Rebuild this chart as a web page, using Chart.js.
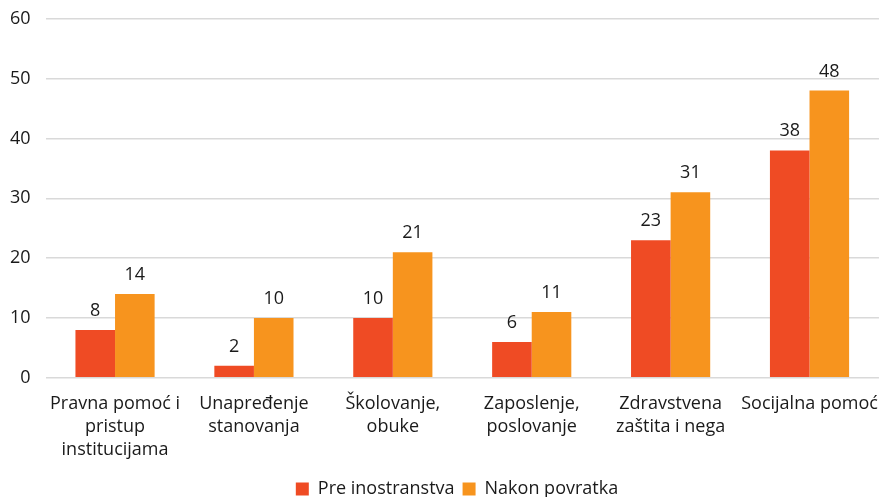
<!DOCTYPE html>
<html>
<head>
<meta charset="utf-8">
<script src="https://cdn.jsdelivr.net/npm/chart.js@4/dist/chart.umd.min.js"></script>
<style>
  html, body { margin: 0; padding: 0; background: #fff; }
  #wrap { width: 884px; height: 497px; position: relative; }
</style>
</head>
<body>
<div id="wrap"><canvas id="canvas"></canvas></div>
<script>
const categories = [
  ['Pravna pomoć i', 'pristup', 'institucijama'],
  ['Unapređenje', 'stanovanja'],
  ['Školovanje,', 'obuke'],
  ['Zaposlenje,', 'poslovanje'],
  ['Zdravstvena', 'zaštita i nega'],
  'Socijalna pomoć'
];
const preInostranstva = [8, 2, 10, 6, 23, 38];
const nakonPovratka = [14, 10, 21, 11, 31, 48];
const yTicks = [0, 10, 20, 30, 40, 50, 60];

const FONT = "'Open Sans', 'Noto Sans', sans-serif";

// value labels above each bar
const barValues = {
  id: 'barValues',
  afterDatasetsDraw(chart) {
    const ctx = chart.ctx;
    ctx.save();
    ctx.font = '18px ' + FONT;
    ctx.fillStyle = '#1a1a1a';
    ctx.textAlign = 'center';
    ctx.textBaseline = 'alphabetic';
    chart.data.datasets.forEach((ds, i) => {
      chart.getDatasetMeta(i).data.forEach((bar, j) => {
        ctx.fillText(ds.data[j], bar.x, bar.y - 14);
      });
    });
    ctx.restore();
  }
};

// nudge the legend a bit to the right of the canvas centre
const legendShift = {
  id: 'legendShift',
  afterLayout(chart) {
    chart.legend.left += 15;
    chart.legend.right += 15;
  }
};

const ctx = document.getElementById('canvas');
new Chart(ctx, {
  type: 'bar',
  data: {
    labels: categories,
    datasets: [{
      label: 'Pre inostranstva',
      data: preInostranstva,
      backgroundColor: '#EF4B24',
      barPercentage: 1,
      categoryPercentage: 0.57
    }, {
      label: 'Nakon povratka',
      data: nakonPovratka,
      backgroundColor: '#F7941E',
      barPercentage: 1,
      categoryPercentage: 0.57
    }]
  },
  options: {
    responsive: true,
    maintainAspectRatio: false,
    animation: false,
    layout: { padding: { left: 2, right: 2, top: 0, bottom: -11 } },
    plugins: {
      legend: {
        position: 'bottom',
        labels: {
          font: { family: FONT, size: 18 },
          color: '#1a1a1a',
          boxWidth: 13,
          boxHeight: 13,
          padding: 8
        }
      },
      tooltip: { enabled: false }
    },
    scales: {
      x: {
        grid: { display: false },
        border: { display: false },
        afterFit(axis) {
          axis.height += 4;
        },
        ticks: {
          font: { family: FONT, size: 18, lineHeight: 1.3 },
          color: '#1a1a1a',
          maxRotation: 0,
          autoSkip: false,
          padding: 6
        }
      },
      y: {
        min: 0,
        max: 60,
        afterBuildTicks(axis) {
          axis.ticks = yTicks.map(v => ({ value: v }));
        },
        grid: {
          color: '#d9d9d9',
          lineWidth: 1.5,
          drawTicks: true,
          tickLength: 7,
          tickColor: 'rgba(0,0,0,0)'
        },
        border: { display: false },
        ticks: {
          font: { family: FONT, size: 18 },
          color: '#1a1a1a',
          padding: 8
        }
      }
    }
  },
  plugins: [barValues, legendShift]
});
</script>
</body>
</html>
